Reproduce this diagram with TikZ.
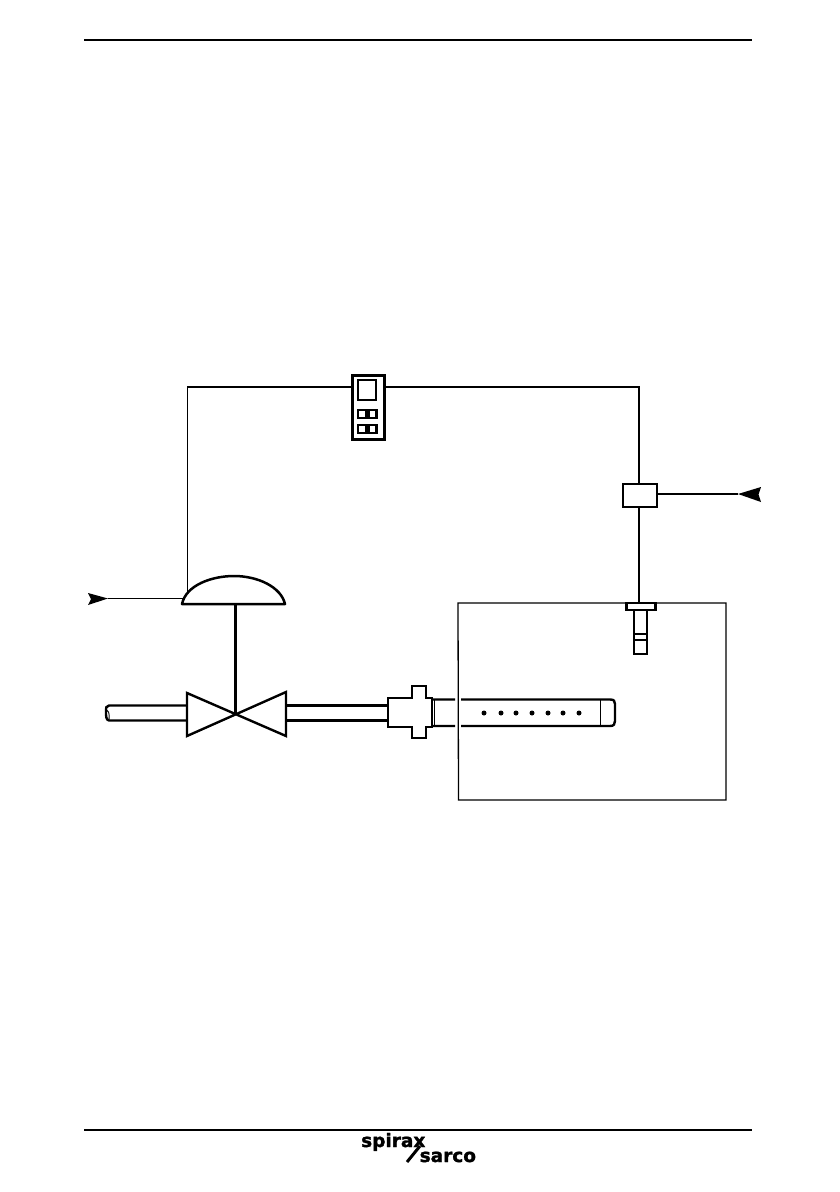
\documentclass[tikz,border=0pt]{standalone}
\usepackage{fontspec}
\setmainfont{DejaVu Sans}
\newfontfamily\logofont[FakeBold=1.6]{DejaVu Sans Bold}
\begin{document}
\begin{tikzpicture}[x=1pt,y=-1pt,
  box/.style={draw=black,fill=white,line width=#1,inner sep=0pt,outer sep=0pt,minimum width=0pt},
  box/.default=1.6pt,
  wire/.style={draw=black,line width=1.4pt},
  heavy/.style={draw=black,line width=2.2pt},
  rulel/.style={draw=black,line width=1.4pt},
  hole/.style={circle,fill=black,inner sep=0pt,minimum size=5pt},
  logo/.style={font=\logofont\fontsize{18.5}{19}\selectfont,inner sep=0pt,anchor=base west,text=black}]
\useasboundingbox (0,0) rectangle (840,1192);
\fill[white] (0,0) rectangle (840,1192);
% page rules
\coordinate (r1a) at (84,40); \coordinate (r1b) at (752,40);
\coordinate (r2a) at (84,1130); \coordinate (r2b) at (752,1130);
\draw[rulel] (r1a)--(r1b);
\draw[rulel] (r2a)--(r2b);
% tank
\draw[line width=1.3pt] (458,603)--(726,603)--(726,800)--(458.5,800)--cycle;
% controller
\node[box=3pt,minimum width=32pt,minimum height=64pt] (ctrl) at (368,407) {};
\node[box=1.7pt,minimum width=18pt,minimum height=20pt] (screen) at (367,390) {};
\node[box=2.1pt,minimum width=8pt,minimum height=8pt] (b1) at (362,414) {};
\node[box=2.1pt,minimum width=8pt,minimum height=8pt] (b2) at (372.5,414) {};
\node[box=2.1pt,minimum width=8pt,minimum height=8pt] (b3) at (362,429) {};
\node[box=2.1pt,minimum width=8pt,minimum height=8pt] (b4) at (372.5,429) {};
% transducer
\node[box=2.3pt,minimum width=34pt,minimum height=23pt] (trans) at (640,495.5) {};
% sensor
\node[box=2.3pt,minimum width=13pt,minimum height=44pt] (stem) at (640.5,632) {};
\node[box=2.3pt,minimum width=29pt,minimum height=7pt] (flange) at (641,606.5) {};
\coordinate (band1) at (634,634); \coordinate (band2) at (647,634);
\coordinate (band3) at (634,640); \coordinate (band4) at (647,640);
\draw[line width=1.2pt] (band1)--(band2) (band3)--(band4);
% signal wires
\coordinate (cornerL) at (187.5,387);
\coordinate (cornerR) at (639,387);
\coordinate (actIn) at (187.5,592);
\draw[wire] (ctrl.west |- cornerL)--(cornerL)--(actIn);
\draw[wire] (ctrl.east |- cornerR)--(cornerR)--(cornerR |- trans.north);
\draw[heavy] (cornerR |- trans.south)--(cornerR |- flange.north);
% air supply right
\coordinate (airR) at (738,494);
\draw[line width=1.6pt] (trans.east |- airR)--(airR);
\fill[black] (airR)--(761,487)--(758.5,494.5)--(761,502)--cycle;
% actuator
\coordinate (actL) at (182,604); \coordinate (actR) at (285,604);
\coordinate (stemT) at (235,604); \coordinate (vc) at (235,713);
\draw[line width=2.5pt,fill=white,line join=round] (actL) .. controls (186,585) and (212,576) .. (234,576) .. controls (258,576) and (281,587) .. (actR) -- cycle;
% air supply left
\coordinate (airL) at (108,598.5);
\draw[line width=1.6pt] (airL)--(182.5,598.5);
\fill[black] (airL)--(88,593)--(91,599)--(88,605)--cycle;
% stem
\draw[line width=3pt] (stemT)--(vc);
% pipe left
\draw[line width=2.4pt] (187,705.5)--(109,705.5) .. controls (106,705.5) and (106,708) .. (106,712) .. controls (106,716) and (106,720) .. (109,720.5)--(187,720.5);
\draw[line width=.9pt] (106,712) .. controls (108,708) and (110,714) .. (109,720);
% pipe right
\draw[line width=2.4pt] (286,705.5)--(388,705.5) (286,720.5)--(388,720.5);
% valve
\draw[line width=2.4pt,line join=miter,fill=white] (187,693)--(286,736)--(286,692)--(187,736)--cycle;
% diffuser nozzle
\draw[line width=2.4pt] (432,699.5)--(455,699.5) (461,699.5)--(610,699.5) .. controls (614,699.5) and (615,701) .. (615,704)--(615,721) .. controls (615,724) and (614,726) .. (610,726)--(461,726) (455,726)--(432,726);
\coordinate (capT) at (600,700); \coordinate (capB) at (600,726);
\draw[line width=.9pt] (capT)--(capB);
\draw[line width=.8pt] (434,699)--(434,726);
% fitting
\draw[line width=2.4pt,fill=white,line join=miter] (388,698)--(412,698)--(412,686)--(426,686)--(426,698)--(432,698)--(432,727)--(426,727)--(426,738)--(412,738)--(412,727)--(388,727)--cycle;
% holes
\foreach \n/\x in {1/484,2/501,3/516,4/532,5/548,6/563,7/579}
  \node[hole] (h\n) at (\x,713) {};
% logo
\node[logo] (spx) at (361,1147) {spirax};
\node[logo] (src) at (419.5,1162) {sarco};
\coordinate (sl1) at (407,1162); \coordinate (sl2) at (420,1146);
\draw[line width=3pt] (sl1)--(sl2);
\end{tikzpicture}
\end{document}
